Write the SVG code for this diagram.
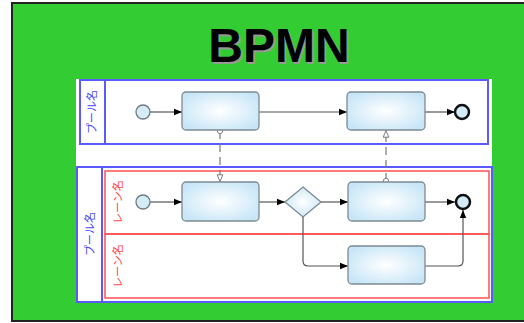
<svg xmlns="http://www.w3.org/2000/svg" width="524" height="323" viewBox="0 0 524 323">
<defs>
<radialGradient id="tg" cx="50%" cy="50%" r="60%">
<stop offset="0" stop-color="#ffffff"/>
<stop offset="1" stop-color="#c6e5f7"/>
</radialGradient>
<marker id="ah" viewBox="0 0 10 10" refX="10" refY="5" markerWidth="8" markerHeight="8" markerUnits="userSpaceOnUse" orient="auto">
<path d="M0,1 L10,5 L0,9 z" fill="#000"/>
</marker>
<marker id="oh" viewBox="0 0 10 10" refX="10" refY="5" markerWidth="8" markerHeight="8" markerUnits="userSpaceOnUse" orient="auto">
<path d="M1,1.5 L9.5,5 L1,8.5 z" fill="#fff" stroke="#777" stroke-width="1.2"/>
</marker>
<marker id="oc" viewBox="0 0 10 10" refX="5" refY="5" markerWidth="7" markerHeight="7" markerUnits="userSpaceOnUse" orient="auto">
<circle cx="5" cy="5" r="3.8" fill="#fff" stroke="#777" stroke-width="1.3"/>
</marker>
</defs>
<style>
.pool{fill:#fff;stroke:#5a5aff;stroke-width:2}
.lane{fill:none;stroke:#ff5050;stroke-width:1.5}
.task{fill:url(#tg);stroke:#7d8a90;stroke-width:1.3}
.start{fill:#d3ecf8;stroke:#6f7a80;stroke-width:1.3}
.end{fill:#d3ecf8;stroke:#111;stroke-width:2.5}
.flow{fill:none;stroke:#555;stroke-width:1.2;marker-end:url(#ah)}
.msg{fill:none;stroke:#777;stroke-width:1.2;stroke-dasharray:8 5;marker-start:url(#oc);marker-end:url(#oh)}
.pl{font-family:"Noto Sans CJK JP","Liberation Sans",sans-serif;font-size:11px;fill:#4a4aff}
.ll{font-family:"Noto Sans CJK JP","Liberation Sans",sans-serif;font-size:11px;fill:#ff4a4a}
</style>
<rect x="12" y="3" width="520" height="318" fill="#33cc33" stroke="#222" stroke-width="2"/>
<text x="280.5" y="63.5" text-anchor="middle" font-family="Liberation Sans, Arial, sans-serif" font-weight="bold" font-size="48" fill="#999">BPMN</text>
<text x="279" y="62" text-anchor="middle" font-family="Liberation Sans, Arial, sans-serif" font-weight="bold" font-size="48" fill="#000">BPMN</text>
<rect x="76" y="79" width="416" height="224" fill="#fff"/>
<g id="pool1">
<rect class="pool" x="80" y="80" width="408" height="64"/>
<line x1="105" y1="80" x2="105" y2="144" stroke="#5a5aff" stroke-width="2"/>
<text class="pl" transform="translate(96,112) rotate(-90)" text-anchor="middle">プール名</text>
</g>
<g id="pool2">
<rect class="pool" x="77" y="167" width="415" height="135"/>
<line x1="102" y1="167" x2="102" y2="302" stroke="#5a5aff" stroke-width="2"/>
<text class="pl" transform="translate(94,234) rotate(-90)" text-anchor="middle">プール名</text>
</g>
<g id="lane1">
<rect class="lane" x="105" y="171" width="384" height="63"/>
<text class="ll" transform="translate(122,202) rotate(-90)" text-anchor="middle">レーン名</text>
</g>
<g id="lane2">
<rect class="lane" x="105" y="234" width="384" height="64"/>
<text class="ll" transform="translate(122,266) rotate(-90)" text-anchor="middle">レーン名</text>
</g>
<g id="connectors">
<line class="flow" x1="150" y1="112" x2="182" y2="112"/>
<line class="flow" x1="259" y1="112" x2="347" y2="112"/>
<line class="flow" x1="425" y1="112" x2="455" y2="112"/>
<line class="flow" x1="150" y1="202" x2="182" y2="202"/>
<line class="flow" x1="259" y1="202" x2="285" y2="202"/>
<line class="flow" x1="321" y1="202" x2="348" y2="202"/>
<line class="flow" x1="425" y1="202" x2="455" y2="202"/>
<path class="flow" d="M303,216 V261 Q303,266 308,266 H348"/>
<path class="flow" d="M425,266 H458 Q463,266 463,261 V210"/>
<line class="msg" x1="220" y1="131" x2="220" y2="182"/>
<line class="msg" x1="386" y1="181" x2="386" y2="130"/>
</g>
<g id="start1"><circle class="start" cx="143" cy="112" r="7"/></g>
<g id="task1"><rect class="task" x="182" y="92" width="77" height="38" rx="4"/></g>
<g id="task2"><rect class="task" x="347" y="92" width="78" height="38" rx="4"/></g>
<g id="end1"><circle class="end" cx="462" cy="112" r="7"/></g>
<g id="start2"><circle class="start" cx="143" cy="202" r="7"/></g>
<g id="task3"><rect class="task" x="182" y="182" width="77" height="39" rx="4"/></g>
<g id="gateway"><path class="task" d="M303,187 L321,202 L303,217 L285,202 z"/></g>
<g id="task4"><rect class="task" x="348" y="182" width="77" height="39" rx="4"/></g>
<g id="end2"><circle class="end" cx="463" cy="202" r="7"/></g>
<g id="task5"><rect class="task" x="348" y="246" width="77" height="38" rx="4"/></g>
</svg>
